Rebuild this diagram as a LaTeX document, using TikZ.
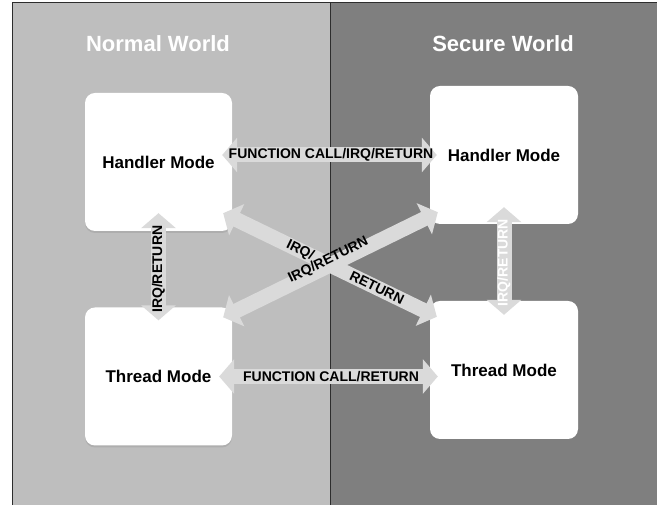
\documentclass[tikz,border=0pt]{standalone}
\usepackage{fontspec}
\setmainfont{Liberation Sans}
\usetikzlibrary{arrows.meta,shadows}
\definecolor{normalbg}{RGB}{190,190,190}
\definecolor{securebg}{RGB}{127,127,127}
\definecolor{arrowgray}{RGB}{218,218,218}
\definecolor{edgeline}{RGB}{45,45,45}

\begin{document}
\begin{tikzpicture}[x=1pt, y=1pt,
  modebox/.style={rectangle, rounded corners=10pt, fill=white, minimum width=147pt,
    minimum height=138pt, inner sep=0pt, font=\fontsize{17}{20}\selectfont\bfseries,
    drop shadow={shadow xshift=0pt, shadow yshift=-2pt, opacity=0.25}},
  world/.style={text=white, font=\fontsize{22}{26}\selectfont\bfseries, anchor=base},
  bigarrow/.style={line width=15pt, draw=arrowgray,
    {Triangle[width=34pt,length=15pt]}-{Triangle[width=34pt,length=15pt]}},
  lbl/.style={font=\fontsize{14}{16}\selectfont\bfseries, inner sep=0pt}
]
  \useasboundingbox (0,0) rectangle (657,505);

  % Worlds
  \fill[normalbg] (12,0) rectangle (330,502);
  \fill[securebg] (330,0) rectangle (657,502);
  \draw[edgeline, line width=1pt] (12,0) -- (12,502) -- (657,502);
  \draw[edgeline, line width=1pt] (330,0) -- (330,502);
  \node[world] (normal) at (158,453) {Normal World};
  \node[world] (secure) at (503,453) {Secure World};

  % Modes
  \node[modebox] (nh) at (158.5,343) {Handler Mode};
  \node[modebox] (nt) at (158.5,128.5) {Thread Mode};
  \node[modebox, minimum width=148pt] (sh) at (504,350) {Handler Mode};
  \node[modebox, minimum width=148pt] (st) at (504,135) {Thread Mode};

  % Arrows
  \draw[bigarrow, shorten <=-10pt, shorten >=-7pt] (nh.east |- sh.west) -- (sh.west)
    node[lbl, midway] {FUNCTION CALL/IRQ/RETURN};
  \draw[bigarrow, shorten <=-13pt, shorten >=-8pt] (nt.east) -- (nt.east -| st.west)
    node[lbl, midway] {FUNCTION CALL/RETURN};
  \draw[bigarrow, shorten <=-13pt, shorten >=-18pt] (nt.north) -- (nh.south)
    node[lbl, midway, sloped] {IRQ/RETURN};
  \draw[bigarrow, shorten <=-14pt, shorten >=-17pt] (st.north) -- (sh.south)
    node[lbl, midway, sloped, text=white] {IRQ/RETURN};
  \draw[bigarrow] ([shift={(-9,18)}]nh.south east) -- ([shift={(7,-16)}]st.north west)
    node[lbl, pos=0.36, sloped] {IRQ/}
    node[lbl, pos=0.72, sloped] {RETURN};
  \draw[bigarrow] ([shift={(-9,-10)}]nt.north east) -- ([shift={(8,12)}]sh.south west)
    node[lbl, pos=0.50, sloped, above=-9pt] {IRQ/RETURN};
\end{tikzpicture}
\end{document}
